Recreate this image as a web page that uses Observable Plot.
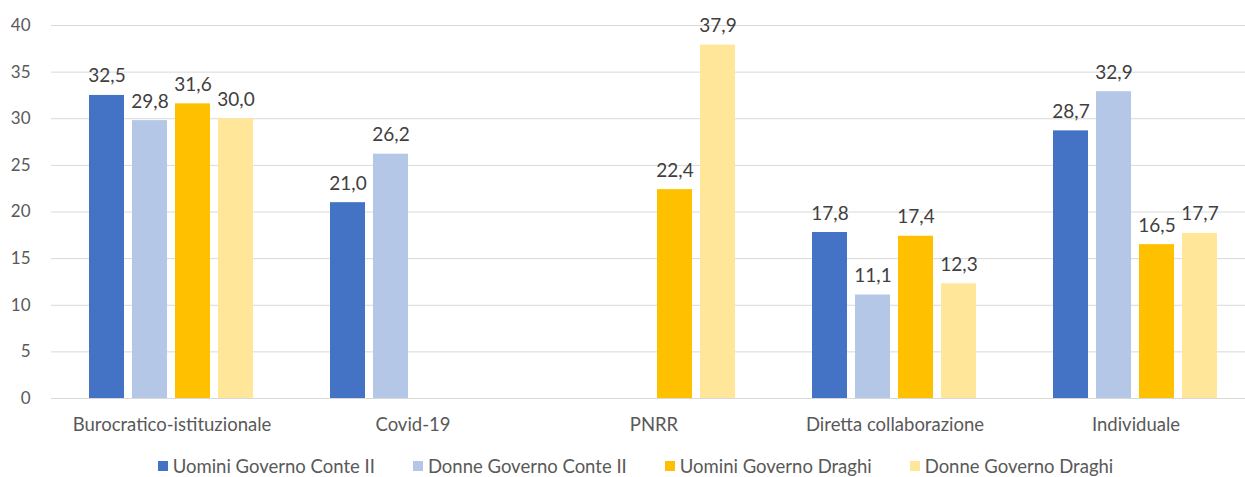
<!DOCTYPE html>
<html>
<head>
<meta charset="utf-8">
<script src="https://cdn.jsdelivr.net/npm/d3@7"></script>
<script src="https://cdn.jsdelivr.net/npm/@observablehq/plot@0.6"></script>
<style>
  body { margin: 0; background: #fff; font-family: Lato, "Open Sans", sans-serif; }
  #chart { width: 1245px; height: 477px; overflow: hidden; position: relative; }
  .legend { display: flex; justify-content: center; gap: 38px; margin-top: 16px; margin-left: 26px;
            font-size: 18.5px; color: #595959; line-height: 20px; }
  .legend span.item { display: flex; align-items: center; white-space: nowrap; }
  .legend span.sw { width: 10px; height: 10px; display: inline-block; margin-right: 5px; }
</style>
</head>
<body>
<div id="chart"></div>
<script>
const categories = ["Burocratico-istituzionale", "Covid-19", "PNRR", "Diretta collaborazione", "Individuale"];
const seriesNames = ["Uomini Governo Conte II", "Donne Governo Conte II", "Uomini Governo Draghi", "Donne Governo Draghi"];
const uominiConte = [32.5, 21.0, null, 17.8, 28.7];
const donneConte  = [29.8, 26.2, null, 11.1, 32.9];
const uominiDraghi = [31.6, null, 22.4, 17.4, 16.5];
const donneDraghi  = [30.0, null, 37.9, 12.3, 17.7];
const colors = ["#4472C4", "#B4C7E7", "#FFC000", "#FFE699"];
const yTicks = [0, 5, 10, 15, 20, 25, 30, 35, 40];

const allSeries = [uominiConte, donneConte, uominiDraghi, donneDraghi];
const data = [];
categories.forEach((c, i) => {
  allSeries.forEach((s, j) => {
    if (s[i] != null) data.push({cat: c, series: seriesNames[j], value: s[i]});
  });
});
const fmt = v => d3.format(".1f")(v).replace(".", ",");

const chart = Plot.plot({
  width: 1245,
  height: 440,
  marginLeft: 51,
  marginRight: -11,
  marginTop: 25,
  marginBottom: 42,
  style: { fontFamily: "Lato, 'Open Sans', sans-serif", fontSize: "17px", color: "#595959", background: "#fff", overflow: "visible" },
  fx: { domain: categories, padding: 0, label: null },
  x: { domain: seriesNames, paddingInner: 0.18, paddingOuter: 0.85, axis: null },
  y: { domain: [0, 40], label: null },
  color: { domain: seriesNames, range: colors },
  marks: [
    Plot.ruleY(yTicks, { stroke: "#d9d9d9", strokeWidth: 1 }),
    Plot.axisY({ ticks: yTicks, tickSize: 0, tickPadding: 21, fontSize: 17, label: null, fill: "#595959" }),
    Plot.axisFx({ anchor: "bottom", tickSize: 0, tickPadding: 19, fontSize: 18.5, label: null, fill: "#595959" }),
    Plot.barY(data, { fx: "cat", x: "series", y: "value", fill: "series" }),
    Plot.text(data, { fx: "cat", x: "series", y: "value", text: d => fmt(d.value), lineAnchor: "bottom", dy: -13,
      fontSize: 19, fill: "#404040" })
  ]
});
document.getElementById("chart").appendChild(chart);

const legend = document.createElement("div");
legend.className = "legend";
seriesNames.forEach((n, i) => {
  const it = document.createElement("span");
  it.className = "item";
  const sw = document.createElement("span");
  sw.className = "sw";
  sw.style.background = colors[i];
  it.appendChild(sw);
  it.appendChild(document.createTextNode(n));
  legend.appendChild(it);
});
document.getElementById("chart").appendChild(legend);
</script>
</body>
</html>
